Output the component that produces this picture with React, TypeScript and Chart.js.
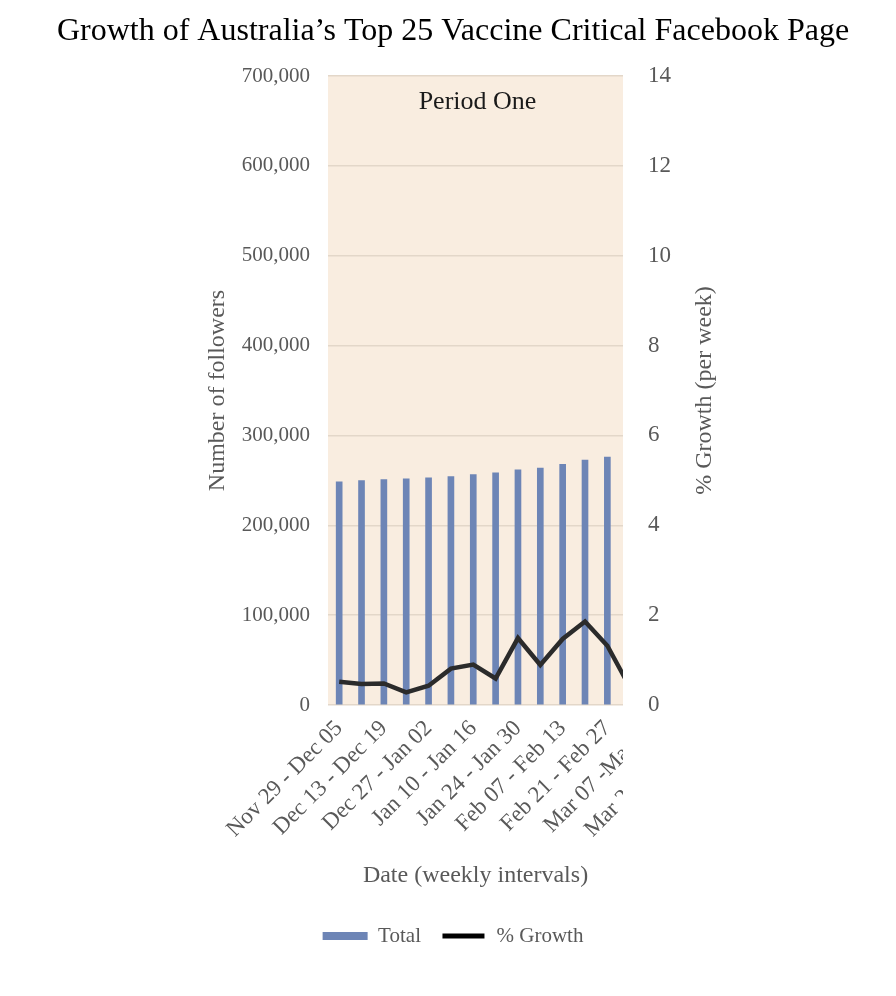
import React, { useEffect, useRef } from 'react';
import { Chart, registerables } from 'chart.js';

Chart.register(...registerables);

// ---- data ----
const categories = [
  'Nov 29 - Dec 05', 'Dec 06 - Dec 12', 'Dec 13 - Dec 19', 'Dec 20 - Dec 26',
  'Dec 27 - Jan 02', 'Jan 03 - Jan 09', 'Jan 10 - Jan 16', 'Jan 17 - Jan 23',
  'Jan 24 - Jan 30', 'Jan 31 - Feb 06', 'Feb 07 - Feb 13', 'Feb 14 - Feb 20',
  'Feb 21 - Feb 27', 'Feb 28 - Mar 06', 'Mar 07 -Mar 13', 'Mar 14 - Mar 20',
  'Mar 21 - Mar 27',
];
const totalFollowers = [
  248500, 249800, 250800, 251800, 252800, 254300, 256500,
  258400, 261700, 263600, 267700, 272500, 275800,
];
const weeklyGrowth = [
  0.52, 0.47, 0.48, 0.28, 0.43, 0.81, 0.9, 0.59, 1.49, 0.89, 1.47, 1.86, 1.32, 0.4,
];
const chartTitle = 'Growth of Australia\u2019s Top 25 Vaccine Critical Facebook Page';
const periodLabel = 'Period One';
const leftAxisTitle = 'Number of followers';
const rightAxisTitle = '% Growth (per week)';
const xAxisTitle = 'Date (weekly intervals)';
const legendTotal = 'Total';
const legendGrowth = '% Growth';

const SERIF = "'Liberation Serif', 'Times New Roman', Times, serif";
const GRAY = '#595959';
const BLUE = '#6d85b6';
const BG = '#f9ede0';

const plotBackground = {
  id: 'plotBackground',
  beforeDraw(chart: any) {
    const { ctx, chartArea: a } = chart;
    ctx.save();
    ctx.fillStyle = BG;
    ctx.fillRect(a.left, a.top, a.right - a.left, a.bottom - a.top);
    ctx.restore();
  },
};

const extras = {
  id: 'extras',
  afterDatasetsDraw(chart: any) {
    const { ctx, chartArea: a } = chart;
    ctx.save();
    ctx.font = `26px ${SERIF}`;
    ctx.fillStyle = '#1a1a1a';
    ctx.textAlign = 'center';
    ctx.textBaseline = 'middle';
    ctx.fillText(periodLabel, (a.left + a.right) / 2 + 2, a.top + 26);
    ctx.restore();
    // clip the x tick labels (drawn next, z = 1) at the plot's right edge
    ctx.save();
    ctx.beginPath();
    ctx.rect(0, 0, a.right, chart.height);
    ctx.clip();
  },
  afterDraw(chart: any) {
    const { ctx } = chart;
    ctx.restore();
    const s = chart.scales.y2;
    ctx.save();
    ctx.translate(s.left + 82, (s.top + s.bottom) / 2);
    ctx.rotate(-Math.PI / 2);
    ctx.font = `24px ${SERIF}`;
    ctx.fillStyle = GRAY;
    ctx.textAlign = 'center';
    ctx.textBaseline = 'middle';
    ctx.fillText(rightAxisTitle, 0, 0);
    ctx.restore();
  },
};

export default function App() {
  const ref = useRef<HTMLCanvasElement | null>(null);

  useEffect(() => {
    if (!ref.current) return;
    const L = 10;
    const chart = new Chart(ref.current, {
      type: 'bar',
      data: {
        datasets: [
          {
            type: 'bar',
            label: legendTotal,
            data: totalFollowers.map((v, i) => ({ x: i, y: v })),
            backgroundColor: BLUE,
            borderWidth: 0,
            barThickness: 6,
            xAxisID: 'x',
            yAxisID: 'y',
            order: 1,
          } as any,
          {
            type: 'line',
            label: legendGrowth,
            data: weeklyGrowth.map((v, i) => ({ x: i, y: v })),
            borderColor: '#2b2b2b',
            backgroundColor: '#000',
            borderWidth: 4.5,
            pointRadius: 0,
            tension: 0,
            clip: 0,
            xAxisID: 'x',
            yAxisID: 'y2',
            order: 0,
          } as any,
        ],
      },
      options: {
        animation: false,
        responsive: false,
        maintainAspectRatio: false,
        events: [],
        layout: { padding: { left: L, right: 0, top: 0, bottom: 39.5 } },
        scales: {
          x: {
            type: 'linear',
            min: -0.5,
            max: 12.7,
            offset: false,
            grid: { display: false, drawTicks: false, offset: false },
            border: { display: false },
            afterBuildTicks: (scale: any) => {
              scale.ticks = categories
                .map((_, i) => i)
                .filter((i) => i % 2 === 0)
                .map((v) => ({ value: v }));
            },
            ticks: {
              autoSkip: false,
              maxRotation: 45,
              minRotation: 45,
              padding: 10,
              color: GRAY,
              z: 1,
              font: { family: SERIF, size: 23 },
              callback: (v: any) => categories[v as number] ?? '',
            },
            title: {
              display: true,
              text: xAxisTitle,
              color: GRAY,
              font: { family: SERIF, size: 24 },
              padding: { top: 4, bottom: 15 },
            },
            afterFit: (s: any) => {
              s.height = 200.5;
            },
          },
          y: {
            position: 'left',
            min: 0,
            max: 700000,
            grid: { color: '#e3d7c9', lineWidth: 1.5, drawTicks: false },
            border: { display: false },
            ticks: {
              stepSize: 100000,
              padding: 18,
              color: GRAY,
              font: { family: SERIF, size: 21 },
              callback: (v: any) => Number(v).toLocaleString('en-US'),
            },
            title: {
              display: true,
              text: leftAxisTitle,
              color: GRAY,
              font: { family: SERIF, size: 24 },
              padding: { top: 218 - L - 14.4, bottom: 0 },
            },
            afterFit: (s: any) => {
              s.width = 328 - L;
            },
          },
          y2: {
            position: 'right',
            min: 0,
            max: 14,
            grid: { display: false, drawTicks: false },
            border: { display: false },
            ticks: {
              stepSize: 2,
              padding: 25,
              color: GRAY,
              font: { family: SERIF, size: 23 },
            },
            afterFit: (s: any) => {
              s.width = 273;
            },
          },
        },
        plugins: {
          title: {
            display: true,
            text: chartTitle,
            color: '#000',
            font: { family: SERIF, size: 32, weight: 'normal' },
            padding: { top: 12.8, bottom: 24.8 },
          },
          legend: {
            display: true,
            position: 'bottom',
            labels: {
              boxWidth: 45,
              boxHeight: 8,
              padding: 20,
              color: GRAY,
              font: { family: SERIF, size: 21 },
              sort: (a: any, b: any) => a.datasetIndex - b.datasetIndex,
              generateLabels: (c: any) => {
                const items = (Chart.defaults.plugins.legend.labels as any).generateLabels(c);
                return items.map((it: any) => {
                  if (it.datasetIndex === 1) {
                    return { ...it, fillStyle: '#000', strokeStyle: '#fff', lineWidth: 3 };
                  }
                  return { ...it, fillStyle: BLUE, lineWidth: 0 };
                });
              },
            },
          },
          tooltip: { enabled: false },
        },
      } as any,
      plugins: [plotBackground, extras],
    });
    return () => chart.destroy();
  }, []);

  return (
    <div style={{ position: 'absolute', left: 0, top: 0, width: 896, height: 996, background: '#fff' }}>
      <canvas ref={ref} width={896} height={996} style={{ width: 896, height: 996, display: 'block' }} />
    </div>
  );
}
